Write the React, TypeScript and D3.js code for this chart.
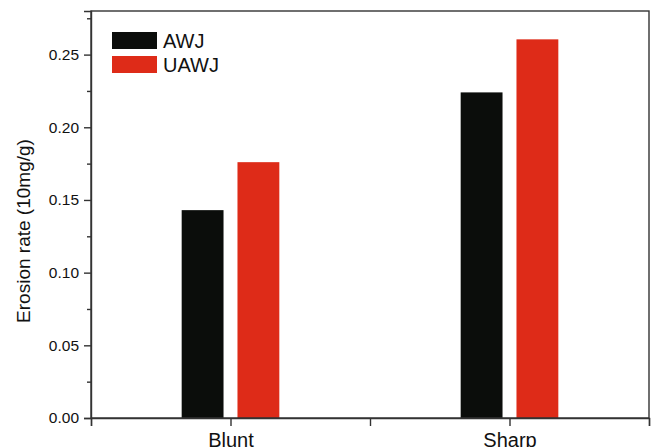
import * as d3 from 'd3';
import React, { useEffect, useRef } from 'react';

const categories = ['Blunt', 'Sharp'];
const seriesNames = ['AWJ', 'UAWJ'];
const awjValues = [0.143, 0.224];
const uawjValues = [0.176, 0.2605];
const yTicks = [0, 0.05, 0.1, 0.15, 0.2, 0.25];
const yMinorTicks = [0.025, 0.075, 0.125, 0.175, 0.225, 0.275];
const colors = ['#0b0d0b', '#de2b18'];

const width = 651;
const height = 447;
const margin = { top: 11, right: 2, bottom: 29, left: 91 };
const font = 'Liberation Sans, Arial, sans-serif';

const App = () => {
  const ref = useRef<SVGSVGElement>(null);

  useEffect(() => {
    const svg = d3.select(ref.current);
    svg.selectAll('*').remove();

    const x0 = margin.left;
    const x1 = width - margin.right;
    const y0 = height - margin.bottom;
    const y1 = margin.top;

    // categories sit at 1 and 3, with extra ticks between them
    const x = d3.scaleLinear().domain([0, 4]).range([x0, x1]);
    const y = d3.scaleLinear().domain([0, 0.28]).range([y0, y1]);
    const catPos = (i) => 1 + i * 2;

    const series = [awjValues, uawjValues];
    const barW = 0.3;
    const gap = 0.05;

    const bars = svg.append('g').attr('class', 'bars');
    series.forEach((values, s) => {
      bars
        .selectAll('.bar-' + s)
        .data(values)
        .enter()
        .append('rect')
        .attr('class', 'bar-' + s)
        .attr('x', (d, i) =>
          s === 0 ? x(catPos(i) - gap - barW) : x(catPos(i) + gap)
        )
        .attr('width', x(barW) - x(0))
        .attr('y', d => y(d))
        .attr('height', d => y(0) - y(d))
        .attr('fill', colors[s]);
    });

    // frame
    svg
      .append('rect')
      .attr('x', x0)
      .attr('y', y1)
      .attr('width', x1 - x0)
      .attr('height', y0 - y1)
      .attr('fill', 'none')
      .attr('stroke', '#333')
      .attr('stroke-width', 1.4);

    // left axis
    const yAxis = svg
      .append('g')
      .attr('transform', 'translate(' + x0 + ',0)')
      .call(
        d3
          .axisLeft(y)
          .tickValues(yTicks)
          .tickSize(7)
          .tickPadding(5)
          .tickFormat(d3.format('.2f'))
      );
    yAxis.select('.domain').attr('stroke', '#333').attr('stroke-width', 1.4);
    yAxis.selectAll('.tick line').attr('stroke', '#333').attr('stroke-width', 1.4);
    yAxis
      .selectAll('.tick text')
      .attr('font-family', font)
      .attr('font-size', 15.5)
      .attr('fill', '#111');

    const yMinor = svg
      .append('g')
      .attr('transform', 'translate(' + x0 + ',0)')
      .call(d3.axisLeft(y).tickValues(yMinorTicks).tickSize(4).tickFormat(() => ''));
    yMinor.select('.domain').remove();
    yMinor.selectAll('.tick line').attr('stroke', '#333').attr('stroke-width', 1.4);

    // bottom axis
    const xAxis = svg
      .append('g')
      .attr('transform', 'translate(0,' + y0 + ')')
      .call(
        d3
          .axisBottom(x)
          .tickValues([0, 1, 2, 3, 4])
          .tickSize(8)
          .tickPadding(7)
          .tickFormat((d) => {
            const i = categories.findIndex((c, k) => catPos(k) === d);
            return i >= 0 ? categories[i] : '';
          })
      );
    xAxis.select('.domain').attr('stroke', '#333').attr('stroke-width', 1.4);
    xAxis.selectAll('.tick line').attr('stroke', '#333').attr('stroke-width', 1.4);
    xAxis
      .selectAll('.tick text')
      .attr('font-family', font)
      .attr('font-size', 20)
      .attr('fill', '#111');

    // y title
    svg
      .append('text')
      .attr('transform', 'translate(30,231) rotate(-90)')
      .attr('text-anchor', 'middle')
      .attr('font-family', font)
      .attr('font-size', 19)
      .attr('fill', '#111')
      .text('Erosion rate (10mg/g)');

    // legend
    const legend = svg
      .append('g')
      .attr('class', 'legends')
      .attr('transform', 'translate(112,32)');
    const legendItem = legend
      .selectAll('.legend')
      .data(seriesNames)
      .enter()
      .append('g')
      .attr('class', 'legend')
      .attr('transform', (d, i) => 'translate(0,' + i * 24 + ')');
    legendItem
      .append('rect')
      .attr('width', 45)
      .attr('height', 17)
      .attr('fill', (d, i) => colors[i]);
    legendItem
      .append('text')
      .attr('x', 51)
      .attr('y', 15.5)
      .attr('font-family', font)
      .attr('font-size', 20)
      .attr('fill', '#111')
      .text(d => d);
  }, []);

  return (
    <svg
      ref={ref}
      width={width}
      height={height}
      style={{ position: 'absolute', left: 0, top: 0, background: '#fff' }}
    />
  );
};

export default App;
